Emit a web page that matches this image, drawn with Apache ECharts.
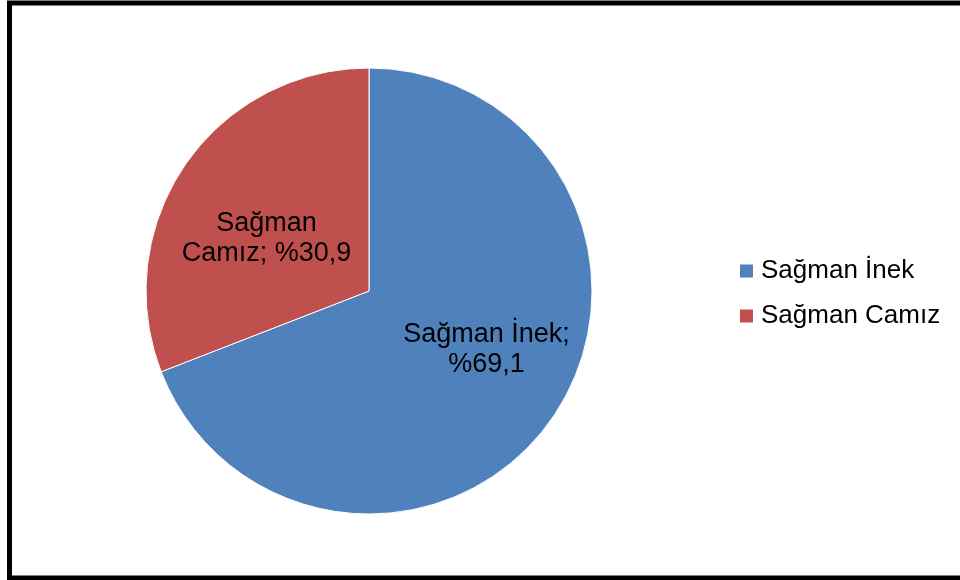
<!DOCTYPE html>
<html>
<head>
<meta charset="utf-8">
<script src="https://cdn.jsdelivr.net/npm/echarts@6/dist/echarts.min.js"></script>
<style>html,body{margin:0;padding:0;background:#fff}#c{width:960px;height:580px}</style>
</head>
<body>
<div id="c"></div>
<script>
var categories = ['Sağman İnek', 'Sağman Camız'];
var values = [69.1, 30.9];
var labelTexts = ['Sağman İnek;\n%69,1', 'Sağman\nCamız; %30,9'];
var colors = ['#4F81BD', '#C0504D'];

var chart = echarts.init(document.getElementById('c'));
var font = 'Liberation Sans, Arial, sans-serif';
var offsets = [[23, -6], [-8, 12]];
chart.setOption({
  animation: false,
  backgroundColor: '#fff',
  graphic: [{
    type: 'rect',
    shape: {x: 9.5, y: 3, width: 960, height: 575},
    style: {fill: 'none', stroke: '#000', lineWidth: 5},
    z: 100
  }],
  legend: {
    orient: 'vertical',
    left: 735,
    top: 253,
    padding: 5,
    itemWidth: 13,
    itemHeight: 13,
    itemGap: 19,
    icon: 'rect',
    itemStyle: {borderWidth: 0},
    data: categories,
    textStyle: {fontFamily: font, fontSize: 26, color: '#000', lineHeight: 26, padding: [0, 0, 0, 3]}
  },
  series: [{
    type: 'pie',
    center: [369, 291],
    radius: ['0%', 223],
    startAngle: 90,
    clockwise: true,
    itemStyle: {borderColor: '#fff', borderWidth: 1},
    label: {
      position: 'inside',
      fontFamily: font,
      fontSize: 27,
      lineHeight: 30,
      color: '#000',
      align: 'center'
    },
    labelLine: {show: false},
    emphasis: {disabled: true},
    data: categories.map(function (c, i) {
      return {
        name: c,
        value: values[i],
        itemStyle: {color: colors[i]},
        label: {formatter: labelTexts[i], offset: offsets[i]}
      };
    })
  }]
});
</script>
</body>
</html>
